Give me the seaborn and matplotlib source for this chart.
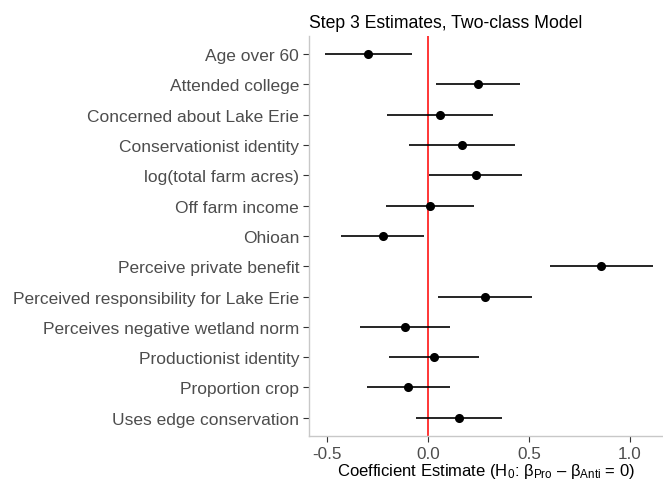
import matplotlib
matplotlib.use("Agg")
import matplotlib.pyplot as plt
import seaborn as sns
import pandas as pd

variables = ["Age over 60", "Attended college", "Concerned about Lake Erie",
             "Conservationist identity", "log(total farm acres)", "Off farm income",
             "Ohioan", "Perceive private benefit", "Perceived responsibility for Lake Erie",
             "Perceives negative wetland norm", "Productionist identity",
             "Proportion crop", "Uses edge conservation"]
estimate = [-0.296, 0.249, 0.061, 0.167, 0.238, 0.010, -0.223, 0.859, 0.284,
            -0.112, 0.030, -0.099, 0.153]
lower = [-0.508, 0.041, -0.203, -0.094, 0.008, -0.206, -0.428, 0.605, 0.049,
         -0.335, -0.190, -0.302, -0.059]
upper = [-0.080, 0.458, 0.323, 0.431, 0.467, 0.228, -0.017, 1.117, 0.516,
         0.109, 0.252, 0.109, 0.368]
xticks = [-0.5, 0.0, 0.5, 1.0]

df = pd.DataFrame({"var": variables, "est": estimate, "lo": lower, "hi": upper})

sns.set_theme(style="white")
plt.rcParams['font.family'] = ['Liberation Sans', 'DejaVu Sans']
plt.rcParams['mathtext.fontset'] = 'custom'
plt.rcParams['mathtext.rm'] = 'Liberation Sans'
plt.rcParams['mathtext.it'] = 'Liberation Sans'

fig = plt.figure(figsize=(6.63, 4.81), dpi=100)
ax = fig.add_axes([0.466, 0.0915, 0.534, 0.832])

ax.axvline(0, color="#FF0000", lw=1.1, zorder=1)
ax.hlines(y=range(len(df)), xmin=df["lo"], xmax=df["hi"], color="black", lw=1.2, zorder=2)
sns.pointplot(data=df, x="est", y="var", order=variables, linestyle="none",
              color="black", markersize=4.5, errorbar=None, ax=ax, zorder=3)

ax.set_xlim(-0.589, 1.165)
ax.set_xticks(xticks)
ax.set_xticklabels([f"{t:.1f}" for t in xticks])
ax.set_ylabel("")
ax.set_xlabel("Coefficient Estimate (H$_0$: β$_{\\mathrm{Pro}}$ – β$_{\\mathrm{Anti}}$ = 0)",
              fontsize=12, color="black", labelpad=0.5)
ax.set_title("Step 3 Estimates, Two-class Model", loc="left", fontsize=12.7, color="black", pad=6)

for s in ["top", "right"]:
    ax.spines[s].set_visible(False)
for s in ["left", "bottom"]:
    ax.spines[s].set_color("#C8C8C8")
    ax.spines[s].set_linewidth(1.0)
ax.tick_params(axis="both", which="both", length=4, width=0.8, color="#333333",
               labelcolor="#4D4D4D", labelsize=12.3, pad=3, left=True, bottom=True)
ax.tick_params(axis="y", labelsize=12.5)
ax.set_ylim(len(df) - 0.4, -0.6)

fig.savefig("out.png", dpi=100)
